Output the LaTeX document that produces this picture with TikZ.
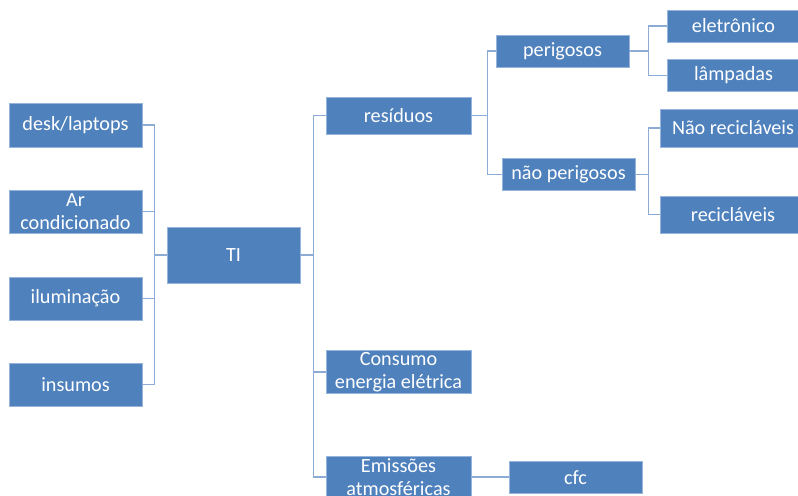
\documentclass[tikz,border=0pt]{standalone}
\usepackage{fontspec}
\setmainfont{Carlito}
\usepackage{tikz}
\usetikzlibrary{positioning}
\definecolor{boxblue}{RGB}{79,129,189}
\definecolor{boxedge}{RGB}{150,180,220}
\definecolor{linkblue}{RGB}{140,172,214}

\begin{document}
\begin{tikzpicture}[
  x=0.02cm, y=-0.02cm,
  item/.style={
    rectangle, minimum width=2.66cm, minimum height=0.64cm,
    inner sep=1pt, align=center, font=\fontsize{11.5}{13}\selectfont,
    text=white, fill=boxblue, draw=boxedge, line width=0.5pt
  },
  link/.style={linkblue, line width=1pt}
]
\path[use as bounding box, clip] (0,0) rectangle (798,495);

% Root and left branch
\node[item, minimum height=1.12cm] (ti) at (233.5,255) {TI};
\node[item, minimum height=0.88cm] (desk)    at (75.5,125)  {desk/laptops};
\node[item, minimum height=0.86cm] (ar)      at (75.5,211.5) {Ar\\condicionado};
\node[item, minimum height=0.86cm] (ilum)    at (75.5,298.5) {iluminação};
\node[item, minimum height=0.86cm] (insumos) at (75.5,384.5) {insumos};

% Right branch
\node[item, minimum width=2.9cm, minimum height=0.74cm] (residuos) at (398.5,115.5) {resíduos};
\node[item, minimum width=2.9cm, minimum height=0.84cm] (consumo)  at (398.5,372)   {Consumo\\energia elétrica};
\node[item, minimum width=2.9cm, minimum height=0.84cm] (emissoes) at (398.5,477)   {Emissões\\atmosféricas};
\node[item] (cfc) at (575.5,477.5) {cfc};

% Resíduos
\node[item] (perig)    at (562.5,51)    {perigosos};
\node[item] (naoperig) at (568.5,174.5) {não perigosos};
\node[item] (eletro)   at (733.5,26)    {eletrônico};
\node[item] (lamp)     at (733.5,75.5)  {lâmpadas};
\node[item, minimum width=2.92cm, minimum height=0.76cm] (naorecic) at (733,128)   {Não recicláveis};
\node[item, minimum width=2.92cm, minimum height=0.74cm] (recic)    at (733,214.5) {recicláveis};

% Connectors
\foreach \leaf in {desk, ar, ilum, insumos}
  \draw[link] (ti.west) -- ++(-12,0) |- (\leaf.east);
\foreach \leaf in {residuos, consumo, emissoes}
  \draw[link] (ti.east) -- ++(13,0) |- (\leaf.west);
\draw[link] (emissoes.east) -- (emissoes.east -| cfc.west);
\foreach \leaf in {perig, naoperig}
  \draw[link] (residuos.east) -- ++(16,0) |- (\leaf.west);
\foreach \leaf in {eletro, lamp}
  \draw[link] (perig.east) -- ++(19,0) |- (\leaf.west);
\foreach \leaf in {naorecic, recic}
  \draw[link] (naoperig.east) -- ++(13,0) |- (\leaf.west);

\end{tikzpicture}
\end{document}
